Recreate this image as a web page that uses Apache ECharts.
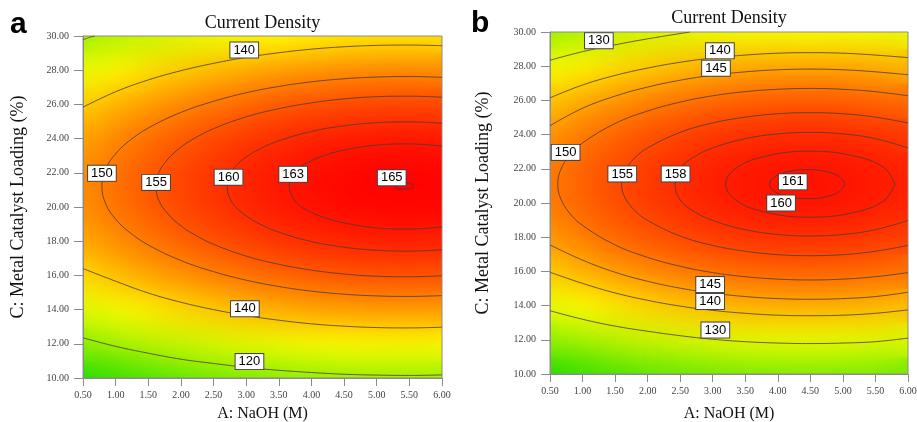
<!DOCTYPE html>
<html><head><meta charset="utf-8">
<script src="https://cdn.jsdelivr.net/npm/echarts@6/dist/echarts.min.js"></script>
<style>
html,body{margin:0;padding:0;background:#fff;}
#wrap{position:relative;width:917px;height:422px;overflow:hidden;background:#fff;}
.layer{position:absolute;left:0;top:0;width:917px;height:422px;}
#heatBase,#heatBlur{clip-path:path('M83 36 H442 V378 H83 Z M550 32 H908 V374 H550 Z');}
#heatBlur{filter:blur(15px);}
</style></head><body>
<div id="wrap"><div id="heatBase" class="layer"></div><div id="heatBlur" class="layer"></div><div id="main" class="layer"></div></div>
<script>
// ---- tick values ----
const xTicks = [0.5,1.0,1.5,2.0,2.5,3.0,3.5,4.0,4.5,5.0,5.5,6.0];
const yTicks = [10,12,14,16,18,20,22,24,26,28,30];

// ---- surface values (rows = y ticks bottom->top, cols = x ticks) ----
const surfaceA = [
 [101.6,105.0,108.0,110.6,112.8,114.7,116.3,117.5,118.3,118.8,118.9,118.7],
 [116.7,120.1,123.1,125.7,127.9,129.8,131.4,132.6,133.4,133.9,134.0,133.8],
 [128.8,132.2,135.2,137.8,140.0,141.9,143.5,144.7,145.5,146.0,146.1,145.9],
 [138.0,141.4,144.4,147.0,149.2,151.1,152.7,153.9,154.7,155.2,155.3,155.1],
 [144.2,147.6,150.6,153.2,155.4,157.3,158.9,160.1,160.9,161.4,161.5,161.3],
 [147.5,150.9,153.9,156.4,158.7,160.6,162.2,163.3,164.2,164.7,164.8,164.6],
 [147.8,151.2,154.2,156.7,159.0,160.9,162.5,163.6,164.5,165.0,165.1,164.9],
 [145.1,148.5,151.5,154.1,156.3,158.2,159.8,161.0,161.8,162.3,162.4,162.2],
 [139.5,142.9,145.9,148.5,150.7,152.6,154.2,155.4,156.2,156.7,156.8,156.6],
 [130.9,134.3,137.3,139.9,142.1,144.0,145.6,146.8,147.6,148.1,148.2,148.0],
 [119.3,122.7,125.7,128.3,130.5,132.4,134.0,135.2,136.0,136.5,136.6,136.4]
];
const surfaceB = [
 [104.9,107.7,110.2,112.2,113.9,115.2,116.2,116.7,116.9,116.7,116.2,115.2],
 [119.5,122.3,124.8,126.8,128.5,129.8,130.8,131.3,131.5,131.3,130.8,129.8],
 [131.2,134.0,136.5,138.5,140.2,141.5,142.5,143.0,143.2,143.0,142.5,141.5],
 [139.9,142.7,145.2,147.2,148.9,150.2,151.2,151.7,151.9,151.7,151.2,150.2],
 [145.8,148.6,151.1,153.1,154.8,156.1,157.1,157.6,157.8,157.6,157.1,156.1],
 [148.9,151.7,154.1,156.2,157.9,159.2,160.1,160.7,160.9,160.7,160.1,159.2],
 [149.0,151.8,154.3,156.3,158.0,159.3,160.3,160.8,161.0,160.8,160.3,159.3],
 [146.3,149.1,151.5,153.6,155.3,156.6,157.5,158.1,158.3,158.1,157.5,156.6],
 [140.7,143.5,145.9,148.0,149.7,151.0,151.9,152.5,152.7,152.5,151.9,151.0],
 [132.2,135.0,137.5,139.5,141.2,142.5,143.5,144.0,144.2,144.0,143.5,142.5],
 [120.8,123.6,126.1,128.1,129.8,131.1,132.1,132.6,132.8,132.6,132.1,131.1]
];

// ---- contour lines, panel a ----
const a120corner = [[0.5,29.78],[0.6,29.92],[0.68,30.0]];
const a120bot = [[0.5,12.35],[1.0,11.85],[1.5,11.45],[2.0,11.1],[2.5,10.85],[3.0,10.62],[3.5,10.45],[4.0,10.32],[4.5,10.22],[5.0,10.17],[5.5,10.15],[6.0,10.18]];
const a140top = [[0.5,25.84],[1.0,26.74],[1.5,27.43],[2.0,27.97],[2.5,28.4],[3.0,28.75],[3.5,29.02],[4.0,29.23],[4.5,29.37],[5.0,29.45],[5.5,29.47],[6.0,29.43]];
const a140bot = [[0.5,16.4],[1.0,15.66],[1.5,14.97],[2.0,14.43],[2.5,14.0],[3.0,13.65],[3.5,13.38],[4.0,13.17],[4.5,13.03],[5.0,12.95],[5.5,12.93],[6.0,12.97]];
const a150 = [[6.0,27.58],[5.5,27.63],[5.0,27.6],[4.5,27.5],[4.0,27.32],[3.5,27.05],[3.0,26.68],[2.5,26.18],[2.0,25.53],[1.5,24.62],[1.2,23.84],[1.0,23.11],[0.85,22.24],[0.79,21.2],[0.85,20.16],[1.0,19.29],[1.2,18.56],[1.5,17.78],[2.0,16.87],[2.5,16.22],[3.0,15.72],[3.5,15.35],[4.0,15.08],[4.5,14.9],[5.0,14.8],[5.5,14.77],[6.0,14.82]];
const a155 = [[6.0,26.42],[5.5,26.48],[5.0,26.45],[4.5,26.32],[4.0,26.09],[3.5,25.75],[3.0,25.27],[2.5,24.58],[2.2,24.0],[2.0,23.5],[1.8,22.8],[1.66,22.0],[1.62,21.2],[1.66,20.4],[1.8,19.6],[2.0,18.9],[2.2,18.4],[2.5,17.82],[3.0,17.13],[3.5,16.65],[4.0,16.31],[4.5,16.08],[5.0,15.95],[5.5,15.92],[6.0,15.98]];
const a160 = [[6.0,24.9],[5.5,24.98],[5.0,24.93],[4.5,24.75],[4.0,24.42],[3.5,23.87],[3.2,23.38],[3.0,22.92],[2.85,22.44],[2.75,21.9],[2.71,21.2],[2.75,20.5],[2.85,19.96],[3.0,19.48],[3.2,19.02],[3.5,18.53],[4.0,17.98],[4.5,17.65],[5.0,17.47],[5.5,17.42],[6.0,17.5]];
const a163 = [[6.0,23.56],[5.5,23.69],[5.0,23.62],[4.5,23.33],[4.2,23.02],[4.0,22.71],[3.8,22.26],[3.7,21.72],[3.66,21.2],[3.7,20.68],[3.8,20.14],[4.0,19.69],[4.2,19.38],[4.5,19.07],[5.0,18.78],[5.5,18.71],[6.0,18.84]];
const a165 = [[5.3,21.22],[5.36,21.36],[5.46,21.4],[5.55,21.3],[5.56,21.18],[5.48,21.06],[5.38,21.04],[5.3,21.12],[5.3,21.22]];
const labelsA = [[2.97,29.18,'140'],[0.79,21.97,'150'],[1.62,21.44,'155'],[2.73,21.74,'160'],[3.72,21.91,'163'],[5.23,21.71,'165'],[2.98,14.05,'140'],[3.05,10.96,'120']];

// ---- contour lines, panel b ----
const b130top = [[0.5,28.35],[1.0,28.85],[1.5,29.25],[2.0,29.6],[2.65,30.0]];
const b130bot = [[0.5,13.7],[1.0,13.2],[1.5,12.8],[2.0,12.5],[2.5,12.24],[3.0,12.03],[3.5,11.89],[4.0,11.81],[4.5,11.78],[5.0,11.81],[5.5,11.89],[6.0,12.1]];
const b140top = [[0.5,26.15],[1.0,26.9],[1.5,27.46],[2.0,27.89],[2.5,28.23],[3.0,28.48],[3.5,28.65],[4.0,28.76],[4.5,28.79],[5.0,28.76],[5.5,28.65],[6.0,28.5]];
const b140bot = [[0.5,15.95],[1.0,15.3],[1.5,14.74],[2.0,14.31],[2.5,13.97],[3.0,13.72],[3.5,13.55],[4.0,13.44],[4.5,13.41],[5.0,13.44],[5.5,13.55],[6.0,13.75]];
const b145top = [[0.5,24.52],[1.0,25.54],[1.5,26.25],[2.0,26.78],[2.5,27.18],[3.0,27.47],[3.5,27.67],[4.0,27.79],[4.5,27.83],[5.0,27.79],[5.5,27.67],[6.0,27.5]];
const b145bot = [[0.5,17.55],[1.0,16.66],[1.5,15.95],[2.0,15.42],[2.5,15.02],[3.0,14.73],[3.5,14.53],[4.0,14.41],[4.5,14.37],[5.0,14.41],[5.5,14.53],[6.0,14.78]];
const b150 = [[6.0,26.27],[5.5,26.51],[5.0,26.65],[4.5,26.7],[4.0,26.65],[3.5,26.51],[3.0,26.27],[2.5,25.9],[2.0,25.38],[1.5,24.65],[1.0,23.51],[0.8,22.79],[0.66,21.9],[0.62,21.1],[0.66,20.3],[0.8,19.41],[1.0,18.69],[1.5,17.55],[2.0,16.82],[2.5,16.3],[3.0,15.93],[3.5,15.69],[4.0,15.55],[4.5,15.5],[5.0,15.55],[5.5,15.69],[6.0,15.93]];
const b155 = [[6.0,24.68],[5.5,25.02],[5.0,25.22],[4.5,25.28],[4.0,25.22],[3.5,25.02],[3.0,24.68],[2.5,24.13],[2.0,23.22],[1.8,22.63],[1.65,21.87],[1.6,21.1],[1.65,20.33],[1.8,19.57],[2.0,18.98],[2.5,18.07],[3.0,17.52],[3.5,17.18],[4.0,16.98],[4.5,16.92],[5.0,16.98],[5.5,17.18],[6.0,17.52]];
const b158 = [[6.0,23.22],[5.5,23.76],[5.0,24.04],[4.5,24.13],[4.0,24.04],[3.5,23.76],[3.0,23.22],[2.7,22.66],[2.5,22.02],[2.42,21.1],[2.5,20.18],[2.7,19.54],[3.0,18.98],[3.5,18.44],[4.0,18.16],[4.5,18.07],[5.0,18.16],[5.5,18.44],[6.0,18.98]];
const b160 = [[5.8,21.1],[5.63,22.07],[5.15,22.77],[4.5,23.03],[3.85,22.77],[3.37,22.07],[3.2,21.1],[3.37,20.13],[3.85,19.43],[4.5,19.17],[5.15,19.43],[5.63,20.13],[5.8,21.1]];
const b161 = [[5.03,21.1],[4.95,21.53],[4.74,21.84],[4.45,21.95],[4.16,21.84],[3.95,21.53],[3.87,21.1],[3.95,20.68],[4.16,20.36],[4.45,20.25],[4.74,20.36],[4.95,20.68],[5.03,21.1]];
const labelsB = [[1.25,29.49,'130'],[3.11,28.9,'140'],[3.05,27.88,'145'],[0.74,22.96,'150'],[1.61,21.70,'155'],[2.43,21.70,'158'],[4.23,21.24,'161'],[4.05,20.0,'160'],[2.96,15.23,'145'],[2.96,14.24,'140'],[3.04,12.57,'130']];

const contoursA = [a120corner,a120bot,a140top,a140bot,a150,a155,a160,a163,a165];
const contoursB = [b130top,b130bot,b140top,b140bot,b145top,b145bot,b150,b155,b158,b160,b161];

const rampColors = ['#22dc00','#ffff00','#ff0000'];
const serif = '"Liberation Serif","Times New Roman",serif';
const sans = '"Liberation Sans",Arial,sans-serif';

// ---------- heatmap layers ----------
function cells(surface){
  const out = [];
  surface.forEach((row, yi) => row.forEach((v, xi) => out.push([xi, yi, v])));
  return out;
}
function heatOption(){
  const xCats = xTicks.map(v => v.toFixed(2));
  const yCats = yTicks.map(v => v.toFixed(2));
  const grids = [
    {left:83 - 359/22, top:36 - 342/20, width:359 + 359/11, height:342 + 342/10, show:false},
    {left:550 - 358/22, top:32 - 342/20, width:358 + 358/11, height:342 + 342/10, show:false}
  ];
  return {
    animation:false,
    grid:grids,
    xAxis:[0,1].map(i => ({type:'category', gridIndex:i, data:xCats, show:false})),
    yAxis:[0,1].map(i => ({type:'category', gridIndex:i, data:yCats, show:false})),
    visualMap:[
      {type:'continuous', show:false, seriesIndex:0, min:101.6, max:165.3, inRange:{color:rampColors}},
      {type:'continuous', show:false, seriesIndex:1, min:104.9, max:163.0, inRange:{color:rampColors}}
    ],
    series:[
      {type:'heatmap', xAxisIndex:0, yAxisIndex:0, data:cells(surfaceA), progressive:0, silent:true, itemStyle:{borderWidth:0}},
      {type:'heatmap', xAxisIndex:1, yAxisIndex:1, data:cells(surfaceB), progressive:0, silent:true, itemStyle:{borderWidth:0}}
    ]
  };
}
echarts.init(document.getElementById('heatBase')).setOption(heatOption());
echarts.init(document.getElementById('heatBlur')).setOption(heatOption());

// ---------- main layer ----------
const axisGray = '#8c8c8c';
function xAxisDef(i, gap){
  return {gridIndex:i, type:'value', min:0.5, max:6.0, interval:0.5,
    name:'A: NaOH (M)', nameLocation:'middle', nameGap:gap,
    nameTextStyle:{fontFamily:serif, fontSize:16, color:'#111'},
    axisLine:{show:true, onZero:false, lineStyle:{color:axisGray}},
    axisTick:{show:true, length:8, lineStyle:{color:axisGray}},
    axisLabel:{fontFamily:serif, fontSize:10, color:'#444', margin:12, formatter:v => v.toFixed(2)},
    splitLine:{show:false}};
}
function yAxisDef(i, gap){
  return {gridIndex:i, type:'value', min:10, max:30, interval:2,
    name:'C: Metal Catalyst Loading (%)', nameLocation:'middle', nameGap:gap,
    nameTextStyle:{fontFamily:serif, fontSize:18, color:'#111'},
    axisLine:{show:true, onZero:false, lineStyle:{color:axisGray}},
    axisTick:{show:true, length:9, lineStyle:{color:axisGray}},
    axisLabel:{fontFamily:serif, fontSize:10, color:'#444', margin:14, formatter:v => v.toFixed(2)},
    splitLine:{show:false}};
}
const series = [];
function addContours(list, gi){
  list.forEach(pts => series.push({type:'line', xAxisIndex:gi, yAxisIndex:gi, data:pts, smooth:0.4,
    symbol:'none', silent:true, clip:true, z:3,
    lineStyle:{color:'#4a3a3a', width:1, opacity:0.8}}));
}
addContours(contoursA, 0);
addContours(contoursB, 1);
function addLabels(list, gi){
  series.push({type:'scatter', xAxisIndex:gi, yAxisIndex:gi, data:list, symbolSize:1, silent:true, z:5,
    itemStyle:{color:'rgba(0,0,0,0)', opacity:1},
    label:{show:true, position:'inside', formatter:p => p.data[2], opacity:1,
      backgroundColor:'#ffffff', borderColor:'#444', borderWidth:1, padding:[1,3,0,3],
      fontFamily:sans, fontSize:13, color:'#000', lineHeight:14}});
}
addLabels(labelsA, 0);
addLabels(labelsB, 1);

const main = echarts.init(document.getElementById('main'));
main.setOption({
  animation:false,
  title:[
    {text:'Current Density', left:262.5, top:14, textAlign:'center', padding:0, textStyle:{fontFamily:serif, fontSize:18, fontWeight:'normal', color:'#111'}},
    {text:'Current Density', left:729, top:9, textAlign:'center', padding:0, textStyle:{fontFamily:serif, fontSize:18, fontWeight:'normal', color:'#111'}},
    {text:'a', left:10, top:10, padding:0, textStyle:{fontFamily:sans, fontSize:30, fontWeight:'bold', color:'#000'}},
    {text:'b', left:471, top:9, padding:0, textStyle:{fontFamily:sans, fontSize:30, fontWeight:'bold', color:'#000'}}
  ],
  grid:[
    {left:83, top:36, width:359, height:342, show:true, borderColor:axisGray, borderWidth:1, backgroundColor:'transparent', outerBoundsMode:'none'},
    {left:550, top:32, width:358, height:342, show:true, borderColor:axisGray, borderWidth:1, backgroundColor:'transparent', outerBoundsMode:'none'}
  ],
  xAxis:[xAxisDef(0, 28), xAxisDef(1, 32)],
  yAxis:[yAxisDef(0, 56), yAxisDef(1, 58)],
  series:series
});
</script></body></html>
